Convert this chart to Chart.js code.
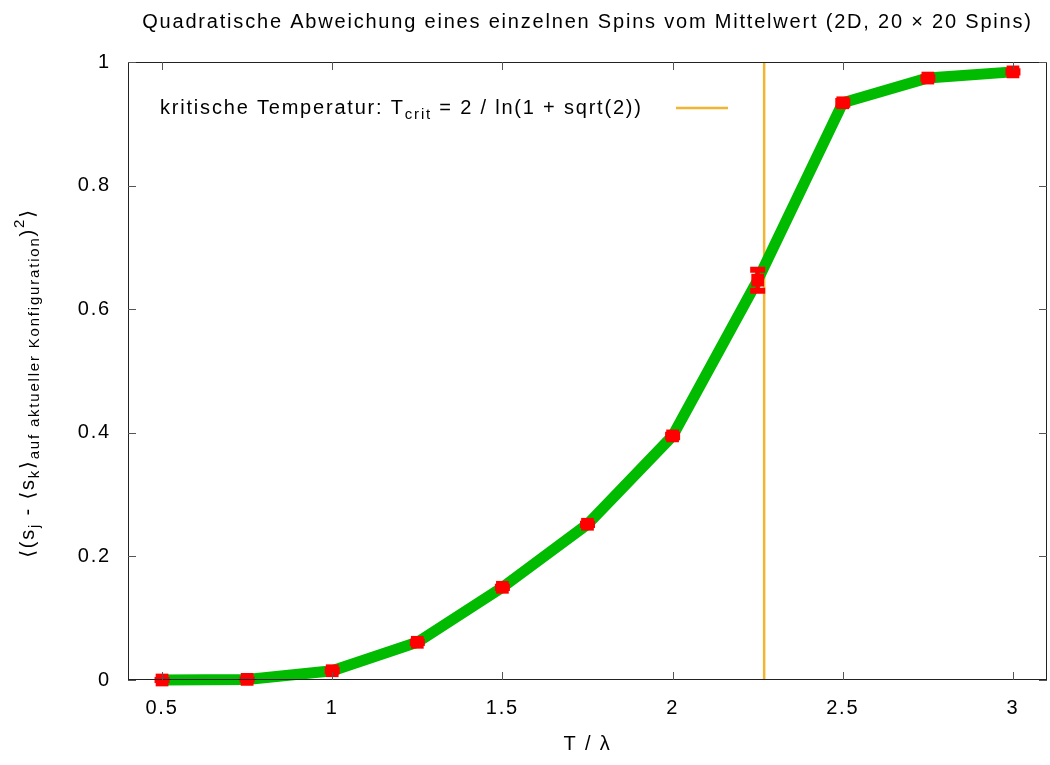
<!DOCTYPE html>
<html>
<head>
<meta charset="utf-8">
<script src="https://cdn.jsdelivr.net/npm/chart.js@4.4.1/dist/chart.umd.min.js"></script>
<style>
  html, body { margin: 0; padding: 0; background: #fff; }
  canvas { display: block; }
</style>
</head>
<body>
<canvas id="chart" width="1050" height="765"></canvas>
<script>
// temperatures T / lambda and measured squared deviation
const temps = [0.5, 0.75, 1.0, 1.25, 1.5, 1.75, 2.0, 2.25, 2.5, 2.75, 3.0];
const spinVar = [0.000, 0.001, 0.015, 0.061, 0.150, 0.252, 0.395, 0.647, 0.934, 0.974, 0.984];
const spinErr = [0.000, 0.000, 0.001, 0.001, 0.001, 0.001, 0.002, 0.017, 0.003, 0.001, 0.001];

const xTicks = [0.5, 1, 1.5, 2, 2.5, 3];
const yTicks = [0, 0.2, 0.4, 0.6, 0.8, 1];

// critical temperature 2 / ln(1 + sqrt(2))
const tCrit = 2.269;
const critSpan = [0, 1];

const FONT = '"Liberation Sans", Arial, "DejaVu Sans", sans-serif';
const SPACING = '1.8px';
const GREEN = '#00bb00';
const RED = '#ff0000';
const GOLD = '#f2b531';

// draw a string made of normal / sub / sup pieces, centred on (x, y)
function richText(ctx, parts, x, y, size) {
    const small = Math.round(size * 0.75);
    const widths = parts.map(p => {
        ctx.font = (p.s ? small : size) + 'px ' + FONT;
        return ctx.measureText(p.t).width;
    });
    const total = widths.reduce((a, b) => a + b, 0);
    let cx = x - total / 2;
    parts.forEach((p, i) => {
        ctx.font = (p.s ? small : size) + 'px ' + FONT;
        let dy = 0;
        if (p.s === 'sub') dy = size * 0.32;
        if (p.s === 'sup') dy = -size * 0.42;
        ctx.fillText(p.t, cx, y + dy);
        cx += widths[i];
    });
    return total;
}

// the reference font is set a little wider than Liberation Sans
const spacing = {
    id: 'spacing',
    beforeInit(chart) { chart.ctx.letterSpacing = SPACING; },
    beforeDraw(chart) { chart.ctx.letterSpacing = SPACING; }
};

const errorBars = {
    id: 'errorBars',
    afterDatasetsDraw(chart) {
        const { ctx, scales: { x, y } } = chart;
        ctx.save();
        ctx.strokeStyle = RED;
        temps.forEach((t, i) => {
            const px = x.getPixelForValue(t);
            const top = y.getPixelForValue(spinVar[i] + spinErr[i]);
            const bot = y.getPixelForValue(spinVar[i] - spinErr[i]);
            ctx.lineWidth = 4;
            ctx.beginPath();
            ctx.moveTo(px, top);
            ctx.lineTo(px, bot);
            ctx.stroke();
            ctx.lineWidth = 6;
            ctx.beginPath();
            ctx.moveTo(px - 7.5, top);
            ctx.lineTo(px + 7.5, top);
            ctx.moveTo(px - 7.5, bot);
            ctx.lineTo(px + 7.5, bot);
            ctx.stroke();
        });
        ctx.restore();
    }
};

const frameAndText = {
    id: 'frameAndText',
    afterDraw(chart) {
        const { ctx, chartArea: a, scales: { x, y } } = chart;
        ctx.save();

        // border with inward ticks on all four sides
        ctx.strokeStyle = '#222';
        ctx.lineWidth = 1;
        ctx.strokeRect(a.left + 0.5, a.top + 0.5, a.right - a.left - 1, a.bottom - a.top - 1);
        ctx.strokeStyle = '#555';
        ctx.beginPath();
        xTicks.forEach(v => {
            const px = Math.round(x.getPixelForValue(v)) + 0.5;
            ctx.moveTo(px, a.bottom); ctx.lineTo(px, a.bottom - 8);
            ctx.moveTo(px, a.top); ctx.lineTo(px, a.top + 8);
        });
        yTicks.forEach(v => {
            const py = Math.round(y.getPixelForValue(v)) + 0.5;
            ctx.moveTo(a.left, py); ctx.lineTo(a.left + 8, py);
            ctx.moveTo(a.right, py); ctx.lineTo(a.right - 8, py);
        });
        ctx.stroke();

        ctx.fillStyle = '#000';
        ctx.textAlign = 'left';
        ctx.textBaseline = 'middle';

        // title
        richText(ctx, [{ t: 'Quadratische Abweichung eines einzelnen Spins vom Mittelwert (2D, 20 \u00d7 20 Spins)' }],
            (a.left + a.right) / 2, 22, 20);

        // legend entry
        const parts = [
            { t: 'kritische Temperatur: T' },
            { t: 'crit', s: 'sub' },
            { t: ' = 2 / ln(1 + sqrt(2))' }
        ];
        const w = richText(ctx, parts, 0, -100, 20);
        richText(ctx, parts, 160 + w / 2, 108, 20);
        const ds = chart.data.datasets[1];
        ctx.strokeStyle = ds.borderColor;
        ctx.lineWidth = ds.borderWidth;
        ctx.beginPath();
        ctx.moveTo(676, 108);
        ctx.lineTo(728, 108);
        ctx.stroke();

        // y axis label, rotated
        ctx.translate(28, 383);
        ctx.rotate(-Math.PI / 2);
        richText(ctx, [
            { t: '\u27e8(s' }, { t: 'j', s: 'sub' },
            { t: ' - \u27e8s' }, { t: 'k', s: 'sub' },
            { t: '\u27e9' }, { t: 'auf aktueller Konfiguration', s: 'sub' },
            { t: ')' }, { t: '2', s: 'sup' }, { t: '\u27e9' }
        ], 0, 0, 20);

        ctx.restore();
    }
};

new Chart(document.getElementById('chart'), {
    type: 'line',
    data: {
        datasets: [
            {
                label: 'Daten',
                data: temps.map((t, i) => ({ x: t, y: spinVar[i] })),
                borderColor: GREEN,
                borderWidth: 11,
                backgroundColor: RED,
                pointStyle: 'rect',
                pointRadius: 9,
                pointBorderWidth: 0,
                pointBackgroundColor: RED,
                tension: 0,
                clip: false,
                order: 0
            },
            {
                label: 'kritische Temperatur',
                data: critSpan.map(v => ({ x: tCrit, y: v })),
                borderColor: GOLD,
                borderWidth: 2.5,
                pointRadius: 0,
                order: 1
            }
        ]
    },
    options: {
        responsive: false,
        animation: false,
        layout: { autoPadding: false, padding: { left: 0, right: 3, top: 62, bottom: 0 } },
        plugins: {
            legend: { display: false },
            tooltip: { enabled: false },
            title: { display: false }
        },
        scales: {
            x: {
                type: 'linear',
                min: 0.4,
                max: 3.1,
                afterBuildTicks: s => { s.ticks = xTicks.map(v => ({ value: v })); },
                afterFit: s => { s.height = 85; s.paddingLeft = 0; s.paddingRight = 0; },
                grid: { display: false },
                border: { display: false },
                ticks: {
                    color: '#000',
                    font: { family: FONT, size: 20 },
                    padding: 8,
                    maxRotation: 0,
                    callback: v => String(v)
                },
                title: {
                    display: true,
                    text: 'T / \u03bb',
                    color: '#000',
                    font: { family: FONT, size: 20 },
                    padding: { top: 0, bottom: 9 }
                }
            },
            y: {
                type: 'linear',
                min: 0,
                max: 1,
                afterBuildTicks: s => { s.ticks = yTicks.map(v => ({ value: v })); },
                afterFit: s => { s.width = 128; s.paddingTop = 0; s.paddingBottom = 0; },
                grid: { display: false },
                border: { display: false },
                ticks: {
                    color: '#000',
                    font: { family: FONT, size: 20 },
                    padding: 9,
                    callback: v => String(v)
                }
            }
        }
    },
    plugins: [spacing, errorBars, frameAndText]
});
</script>
</body>
</html>
